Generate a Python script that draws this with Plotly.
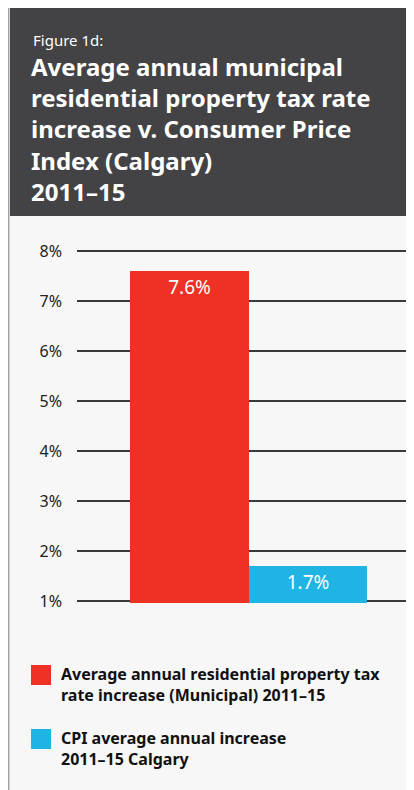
import plotly.graph_objects as go

# data
series_names = [
    "Average annual residential property tax<br>rate increase (Municipal) 2011–15",
    "CPI average annual increase<br>2011–15 Calgary",
]
values = [7.6, 1.7]
bar_colors = ["#EE3124", "#1EB5E5"]
tick_vals = [1, 2, 3, 4, 5, 6, 7, 8]
tick_text = ["1%", "2%", "3%", "4%", "5%", "6%", "7%", "8%"]

# page has an 8px body margin, figure sits at (8, 8)
OFF = 8
W, H = 406, 782
L, R, T, B = 69, 0, 241, 187
FONT = "Noto Sans"


# screen pixel -> paper helpers
def px(x):
    return (x - OFF - L) / (W - L - R)


def py(y):
    return (H - B - (y - OFF)) / (H - T - B)


fig = go.Figure()
for i, (name, v, c) in enumerate(zip(series_names, values, bar_colors)):
    fig.add_trace(go.Bar(
        x=[i], y=[v], width=1, name=name,
        marker=dict(color=c, line=dict(width=0)),
        text=[f"{v:.1f}%"], textposition="inside", insidetextanchor="end",
        textfont=dict(color="white", size=19, family=FONT),
        showlegend=False, hoverinfo="skip",
    ))

shapes = [
    # left border
    dict(type="line", xref="paper", yref="paper", x0=px(8.7), x1=px(8.7), y0=py(H + OFF), y1=py(OFF),
         line=dict(color="#a0a0a0", width=1.5)),
    # header box
    dict(type="rect", xref="paper", yref="paper", x0=px(10), x1=px(W + OFF), y0=py(216), y1=py(OFF),
         fillcolor="#434345", line_width=0, layer="below"),
]
annotations = [
    dict(text="Figure 1d:", x=px(31), y=py(28), xref="paper", yref="paper",
         xanchor="left", yanchor="top", showarrow=False,
         font=dict(family=FONT, size=15, color="white")),
    dict(text="<b>Average annual municipal<br>residential property tax rate<br>increase v. Consumer Price"
              "<br>Index (Calgary)<br>2011–15</b>",
         x=px(29), y=py(48), xref="paper", yref="paper", align="left",
         xanchor="left", yanchor="top", showarrow=False,
         font=dict(family=FONT, size=24, color="white")),
]

# legend
leg_y = [665, 729]
for name, c, y0 in zip(series_names, bar_colors, leg_y):
    shapes.append(dict(type="rect", xref="paper", yref="paper", x0=px(31), x1=px(51),
                       y0=py(y0 + 20), y1=py(y0), fillcolor=c, line_width=0))
    annotations.append(dict(text=f"<b>{name}</b>", x=px(59), y=py(y0 - 4), xref="paper", yref="paper",
                            align="left", xanchor="left", yanchor="top", showarrow=False,
                            font=dict(family=FONT, size=16, color="#111111")))

fig.update_layout(
    width=W, height=H,
    margin=dict(l=L, r=R, t=T, b=B, pad=0),
    paper_bgcolor="#f7f7f7", plot_bgcolor="#f7f7f7",
    bargap=0,
    shapes=shapes, annotations=annotations,
    xaxis=dict(range=[-0.95, 1.894], showticklabels=False, showgrid=False, zeroline=False,
               fixedrange=True),
    yaxis=dict(range=[0.96, 8.04], tickvals=tick_vals, ticktext=tick_text, showgrid=True,
               gridcolor="#3a3a3a", gridwidth=1.5, zeroline=False, ticks="",
               ticklabelstandoff=14,
               tickfont=dict(family=FONT, size=16, color="#222222"), fixedrange=True),
)

fig.write_html("out.html", config={"displayModeBar": False})
